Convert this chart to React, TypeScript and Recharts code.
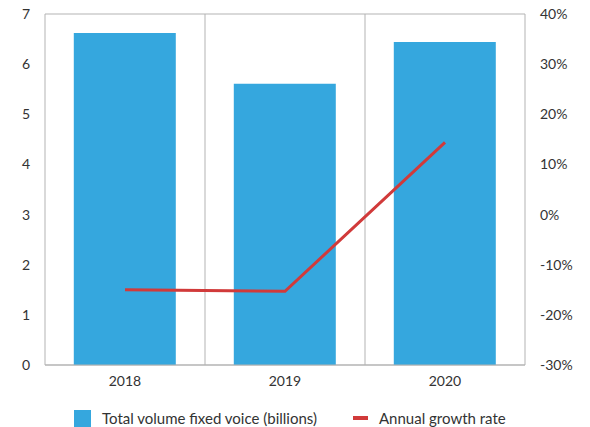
import React from "react";
import {
  ComposedChart,
  Bar,
  Line,
  XAxis,
  YAxis,
  CartesianGrid,
  Legend,
} from "recharts";

const years = ["2018", "2019", "2020"];
const volume = [6.62, 5.61, 6.44];
const growth = [-15.0, -15.3, 14.4];
const leftTicks = [0, 1, 2, 3, 4, 5, 6, 7];
const rightTicks = [-30, -20, -10, 0, 10, 20, 30, 40];

const data = years.map((year, i) => ({
  year,
  volume: volume[i],
  growth: growth[i],
}));

const BLUE = "#35a7de";
const RED = "#d13a3a";
const GRID = "#b3b3b3";
const FONT = "Lato, 'Open Sans', sans-serif";

const tickStyle = { fill: "#333", fontSize: 14, fontFamily: FONT };

function ChartLegend() {
  return (
    <div
      style={{
        display: "flex",
        alignItems: "center",
        paddingTop: 14,
        paddingLeft: 66,
        fontFamily: FONT,
        fontSize: 15,
        lineHeight: "18px",
        color: "#333",
      }}
    >
      <span
        style={{ width: 17, height: 17, background: BLUE, display: "inline-block" }}
      />
      <span style={{ marginLeft: 11 }}>Total volume fixed voice (billions)</span>
      <span
        style={{
          width: 15,
          height: 4,
          background: RED,
          display: "inline-block",
          marginLeft: 36,
        }}
      />
      <span style={{ marginLeft: 11 }}>Annual growth rate</span>
    </div>
  );
}

export default function App() {
  return (
    <div>
      <style>{".recharts-surface { overflow: visible; }"}</style>
      <ComposedChart
        width={582}
        height={419}
        data={data}
        margin={{ top: 6, right: 0, left: 0, bottom: 0 }}
        barCategoryGap="18%"
      >
        <CartesianGrid
          stroke={GRID}
          verticalCoordinatesGenerator={({ offset }: any) => [
            offset.left,
            offset.left + offset.width / 3,
            offset.left + (2 * offset.width) / 3,
            offset.left + offset.width,
          ]}
        />
        <XAxis
          dataKey="year"
          height={30}
          tickLine={false}
          axisLine={{ stroke: GRID }}
          tick={tickStyle}
          tickMargin={5}
        />
        <YAxis
          yAxisId="left"
          width={37}
          domain={[0, 7]}
          ticks={leftTicks}
          tickLine={false}
          axisLine={false}
          tick={tickStyle}
          tickMargin={9}
          interval={0}
        />
        <YAxis
          yAxisId="right"
          orientation="right"
          width={65}
          domain={[-30, 40]}
          ticks={rightTicks}
          tickFormatter={(v: number) => `${v}%`}
          tickLine={false}
          axisLine={false}
          tick={{ ...tickStyle, textAnchor: "start" }}
          tickMargin={9}
          interval={0}
        />
        <Bar
          yAxisId="left"
          dataKey="volume"
          fill={BLUE}
          isAnimationActive={false}
        />
        <Line
          yAxisId="right"
          dataKey="growth"
          stroke={RED}
          strokeWidth={3}
          dot={false}
          activeDot={false}
          isAnimationActive={false}
        />
        <Legend
          verticalAlign="bottom"
          height={32}
          content={() => <ChartLegend />}
          wrapperStyle={{ left: 0, width: 582 }}
        />
      </ComposedChart>
    </div>
  );
}
